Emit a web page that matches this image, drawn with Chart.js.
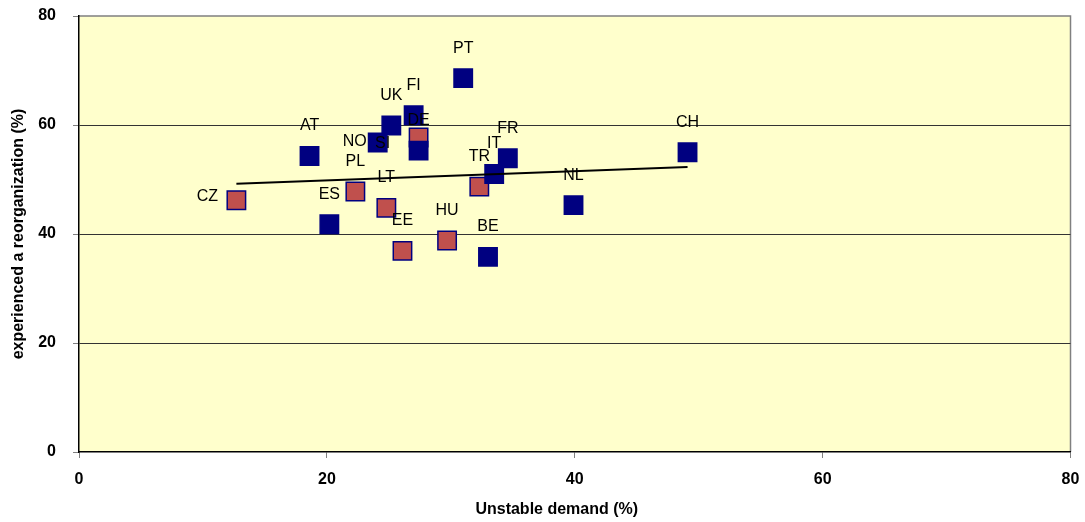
<!DOCTYPE html>
<html lang="en">
<head>
  <meta charset="UTF-8">
  <title>Unstable demand and reorganization</title>
  <script src="https://cdn.jsdelivr.net/npm/chart.js"></script>
  <style>
    html, body { margin: 0; padding: 0; background: #fff; }
    #wrap { width: 1085px; height: 522px; }
  </style>
</head>
<body>
  <div id="wrap"><canvas id="reorgChart" width="1085" height="522"></canvas></div>

  <script>
    // countries drawn in navy
    const blueCountries = ['AT', 'ES', 'NO', 'UK', 'FI', 'DE', 'PT', 'BE', 'IT', 'FR', 'NL', 'CH'];
    const blueDemand = [18.6, 20.2, 24.1, 25.2, 27.0, 27.4, 31.0, 33.0, 33.5, 34.6, 39.9, 49.1];
    const blueReorg = [54.3, 41.8, 56.8, 59.9, 61.8, 55.3, 68.6, 35.8, 51.0, 53.9, 45.3, 55.0];

    // countries drawn in red
    const redCountries = ['CZ', 'PL', 'LT', 'EE', 'SI', 'HU', 'TR'];
    const redDemand = [12.7, 22.3, 24.8, 26.1, 27.4, 29.7, 32.3];
    const redReorg = [46.2, 47.8, 44.8, 36.9, 57.7, 38.8, 48.7];

    const axisTicks = [0, 20, 40, 60, 80];

    // labels sit 30px above their square unless moved here
    const labelShift = { CZ: [-29, -4], NO: [-23, -1], SI: [-36, 6] };

    function toPoints(xs, ys) {
      return xs.map((x, i) => ({ x: x, y: ys[i] }));
    }

    // least squares trend over all countries, spanning min..max demand
    const allX = blueDemand.concat(redDemand);
    const allY = blueReorg.concat(redReorg);
    const n = allX.length;
    const mx = allX.reduce((a, b) => a + b, 0) / n;
    const my = allY.reduce((a, b) => a + b, 0) / n;
    let sxy = 0, sxx = 0;
    for (let i = 0; i < n; i++) {
      sxy += (allX[i] - mx) * (allY[i] - my);
      sxx += (allX[i] - mx) * (allX[i] - mx);
    }
    const slope = sxy / sxx;
    const x0 = Math.min(...allX), x1 = Math.max(...allX);
    const trend = [
      { x: x0, y: my + slope * (x0 - mx) },
      { x: x1, y: my + slope * (x1 - mx) }
    ];

    const plotBackground = {
      id: 'plotBackground',
      beforeDraw(chart) {
        const a = chart.chartArea;
        const ctx = chart.ctx;
        ctx.save();
        ctx.fillStyle = '#FFFFCC';
        ctx.fillRect(a.left, a.top, a.right - a.left, a.bottom - a.top);
        ctx.strokeStyle = '#808080';
        ctx.lineWidth = 1.5;
        ctx.beginPath();
        ctx.moveTo(a.left, a.top);
        ctx.lineTo(a.right, a.top);
        ctx.lineTo(a.right, a.bottom);
        ctx.stroke();
        ctx.restore();
      }
    };

    const pointLabels = {
      id: 'pointLabels',
      afterDraw(chart) {
        const ctx = chart.ctx;
        ctx.save();
        ctx.font = '16px "Liberation Sans", Arial, sans-serif';
        ctx.fillStyle = '#000';
        ctx.textAlign = 'center';
        ctx.textBaseline = 'middle';
        [[1, blueCountries], [2, redCountries]].forEach(([di, names]) => {
          chart.getDatasetMeta(di).data.forEach((pt, i) => {
            const s = labelShift[names[i]] || [0, -30];
            ctx.fillText(names[i], pt.x + s[0], pt.y + s[1]);
          });
        });
        // x axis title
        const a = chart.chartArea;
        ctx.font = 'bold 16px "Liberation Sans", Arial, sans-serif';
        ctx.fillText('Unstable demand (%)', (a.left + a.right) / 2 - 18, 510);
        ctx.restore();
      }
    };

    const square = {
      pointStyle: 'rect',
      pointRadius: 13,
      pointHoverRadius: 13,
      pointBorderWidth: 1.5,
      borderColor: '#000080',
      showLine: false
    };

    const tickFont = { family: '"Liberation Sans", Arial, sans-serif', size: 16, weight: 'bold' };

    const ctx = document.getElementById('reorgChart').getContext('2d');
    new Chart(ctx, {
      type: 'scatter',
      data: {
        datasets: [
          {
            label: 'trend',
            data: trend,
            showLine: true,
            borderColor: '#000',
            borderWidth: 2,
            pointRadius: 0,
            order: 0
          },
          Object.assign({ label: 'blue', data: toPoints(blueDemand, blueReorg), backgroundColor: '#000080', order: 1 }, square),
          Object.assign({ label: 'red', data: toPoints(redDemand, redReorg), backgroundColor: '#C0504D', order: 2 }, square)
        ]
      },
      options: {
        responsive: false,
        animation: false,
        layout: { padding: { top: 16, right: 13, left: 0, bottom: 0 } },
        plugins: {
          legend: { display: false },
          tooltip: { enabled: false }
        },
        scales: {
          x: {
            type: 'linear',
            min: 0,
            max: 80,
            afterBuildTicks(scale) { scale.ticks = axisTicks.map(v => ({ value: v })); },
            afterFit(scale) {
              scale.height = 70;
              scale.paddingLeft = 0;
              scale.paddingRight = 0;
            },
            grid: { drawOnChartArea: false, tickLength: 6, tickColor: '#808080' },
            border: { color: '#000', width: 1.5 },
            ticks: { padding: 12, maxRotation: 0, color: '#000', font: tickFont },
            title: { display: false }
          },
          y: {
            type: 'linear',
            min: 0,
            max: 80,
            afterBuildTicks(scale) { scale.ticks = axisTicks.map(v => ({ value: v })); },
            afterFit(scale) {
              scale.width = 79;
              scale.paddingTop = 0;
              scale.paddingBottom = 0;
            },
            grid: {
              tickLength: 6,
              tickColor: '#808080',
              color: c => (c.tick.value === 0 || c.tick.value === 80) ? 'rgba(0,0,0,0)' : '#333',
              lineWidth: 1
            },
            border: { color: '#000', width: 1.5 },
            ticks: { padding: 17, color: '#000', font: tickFont },
            title: {
              display: true,
              text: 'experienced a reorganization (%)',
              color: '#000',
              padding: { top: 9, bottom: 4 },
              font: tickFont
            }
          }
        }
      },
      plugins: [plotBackground, pointLabels]
    });
  </script>
</body>
</html>
